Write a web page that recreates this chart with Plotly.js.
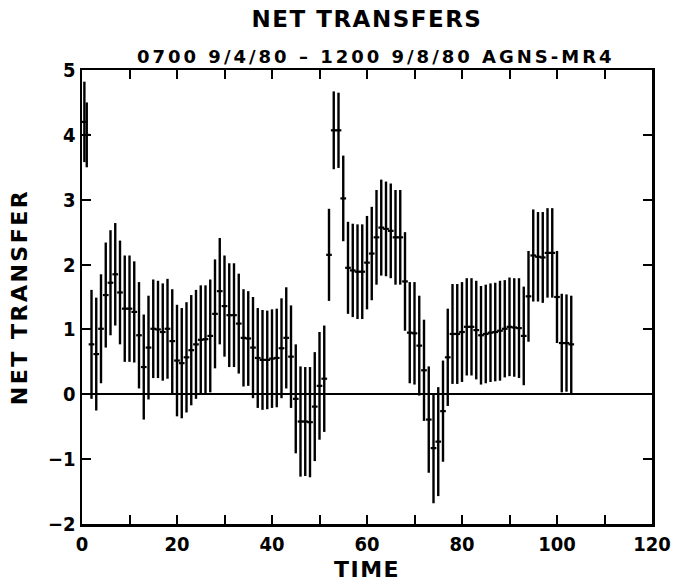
<!DOCTYPE html>
<html>
<head>
<meta charset="utf-8">
<script src="https://cdn.plot.ly/plotly-3.0.1.min.js"></script>
<style>
  html, body { margin: 0; padding: 0; background: #fff; }
  #chart { width: 676px; height: 582px; }
  .gtitle { letter-spacing: 1.5px; }
  .annotation-text { letter-spacing: 3px; }
  .ytitle { letter-spacing: 2.5px; }
  .xtitle { letter-spacing: 1.5px; }
</style>
</head>
<body>
<div id="chart"></div>
<script>
// ---- data ----
const time = [0.5, 1, 2, 3, 4, 5, 6, 7, 8, 9, 10, 11, 12, 13, 14, 15, 16, 17, 18, 19, 20,
  21, 22, 23, 24, 25, 26, 27, 28, 29, 30, 31, 32, 33, 34, 35, 36, 37, 38, 39, 40,
  41, 42, 43, 44, 45, 46, 47, 48, 49, 50, 51, 52, 53, 54, 55, 56, 57, 58, 59, 60,
  61, 62, 63, 64, 65, 66, 67, 68, 69, 70, 71, 72, 73, 74, 75, 76, 77, 78, 79, 80,
  81, 82, 83, 84, 85, 86, 87, 88, 89, 90, 91, 92, 93, 94, 95, 96, 97, 98, 99, 100,
  101, 102, 103];
const netTransfer = [4.2, 4.0, 0.77, 0.62, 1.01, 1.53, 1.72, 1.85, 1.57, 1.32, 1.32, 1.27, 0.91, 0.42, 0.72, 1.01, 1.0, 0.96, 1.01, 0.82, 0.52,
  0.48, 0.57, 0.68, 0.77, 0.84, 0.85, 0.9, 1.24, 1.59, 1.36, 1.22, 1.22, 1.09, 0.87, 0.86, 0.72, 0.56, 0.53, 0.53, 0.55,
  0.56, 0.71, 0.87, 0.58, -0.07, -0.42, -0.42, -0.43, -0.19, 0.13, 0.24, 2.15, 4.07, 4.07, 3.02, 1.95, 1.91, 1.89, 1.89, 2.03,
  2.17, 2.42, 2.57, 2.55, 2.52, 2.42, 2.42, 1.74, 0.95, 0.94, 0.75, 0.37, -0.39, -0.83, -0.73, -0.26, 0.57, 0.93, 0.93, 0.96,
  1.04, 1.04, 0.99, 0.91, 0.93, 0.95, 0.96, 0.98, 1.01, 1.04, 1.03, 1.02, 0.9, 1.51, 2.14, 2.12, 2.11, 2.18, 2.18, 1.5,
  0.79, 0.79, 0.77];
const errNet = [0.62, 0.5, 0.84, 0.87, 0.84, 0.81, 0.81, 0.79, 0.8, 0.82, 0.82, 0.78, 0.82, 0.81, 0.8, 0.76, 0.75, 0.75, 0.77, 0.8, 0.86,
  0.85, 0.85, 0.85, 0.84, 0.84, 0.83, 0.87, 0.84, 0.82, 0.78, 0.8, 0.8, 0.77, 0.75, 0.73, 0.78, 0.77, 0.77, 0.76, 0.76,
  0.76, 0.77, 0.78, 0.79, 0.84, 0.85, 0.84, 0.85, 0.84, 0.83, 0.82, 0.71, 0.6, 0.58, 0.66, 0.71, 0.72, 0.73, 0.73, 0.72,
  0.72, 0.73, 0.74, 0.73, 0.73, 0.73, 0.73, 0.76, 0.78, 0.79, 0.77, 0.78, 0.82, 0.85, 0.84, 0.78, 0.75, 0.77, 0.77, 0.77,
  0.75, 0.75, 0.76, 0.76, 0.76, 0.76, 0.76, 0.77, 0.75, 0.76, 0.76, 0.77, 0.76, 0.7, 0.71, 0.69, 0.7, 0.69, 0.69, 0.71,
  0.76, 0.75, 0.75];
const xTickVals = [0, 20, 40, 60, 80, 100, 120];
const yTickVals = [-2, -1, 0, 1, 2, 3, 4, 5];
const titleText = 'NET TRANSFERS';
const subtitleText = '0700 9/4/80 \u2013 1200 9/8/80 AGNS-MR4';
const xTitle = 'TIME';
const yTitle = 'NET TRANSFER';

const FONT = 'DejaVu Sans';
const TICKFONT = "'DejaVu Sans Condensed', 'DejaVu Sans'";

const trace = {
  type: 'scatter',
  mode: 'markers',
  x: time,
  y: netTransfer,
  marker: { size: 2, color: 'black' },
  error_y: { type: 'data', array: errNet, visible: true, width: 0, thickness: 2.4, color: 'black' },
  error_x: { type: 'constant', value: 0.6, visible: true, width: 0, thickness: 2.2, color: 'black' },
  hoverinfo: 'x+y',
  showlegend: false
};

const axisCommon = {
  showgrid: false,
  showline: true,
  linewidth: 2.5,
  linecolor: 'black',
  mirror: 'ticks',
  ticks: 'inside',
  ticklen: 9,
  tickwidth: 2,
  tickcolor: 'black',
  tickfont: { family: TICKFONT, size: 20, color: 'black', weight: 'bold' }
};

const layout = {
  width: 676,
  height: 582,
  margin: { l: 82, r: 24, t: 70, b: 58 },
  paper_bgcolor: 'white',
  plot_bgcolor: 'white',
  title: {
    text: titleText,
    font: { family: FONT, size: 23, color: 'black', weight: 'bold' },
    xref: 'paper', x: 0.5, xanchor: 'center',
    yref: 'container', y: 0.967, yanchor: 'middle'
  },
  annotations: [{
    text: subtitleText,
    xref: 'paper', yref: 'paper',
    x: 0.516, y: 1.03, xanchor: 'center', yanchor: 'middle',
    showarrow: false,
    font: { family: FONT, size: 18, color: 'black', weight: 'bold' }
  }],
  xaxis: Object.assign({}, axisCommon, {
    range: [0, 120],
    tickvals: xTickVals,
    ticktext: xTickVals.map(String),
    minor: { dtick: 10, tick0: 0, ticks: 'inside', ticklen: 9, tickwidth: 2, tickcolor: 'black', showgrid: false },
    zeroline: false,
    title: { text: xTitle, font: { family: FONT, size: 22, color: 'black', weight: 'bold' }, standoff: 8 }
  }),
  yaxis: Object.assign({}, axisCommon, {
    range: [-2, 5],
    tickvals: yTickVals,
    ticktext: yTickVals.map(v => v < 0 ? '\u2212' + Math.abs(v) : String(v)),
    zeroline: true,
    zerolinewidth: 2,
    zerolinecolor: 'black',
    title: { text: yTitle, font: { family: FONT, size: 22, color: 'black', weight: 'bold' }, standoff: 14 }
  })
};

Plotly.newPlot('chart', [trace], layout, { displayModeBar: false, staticPlot: true });
</script>
</body>
</html>
